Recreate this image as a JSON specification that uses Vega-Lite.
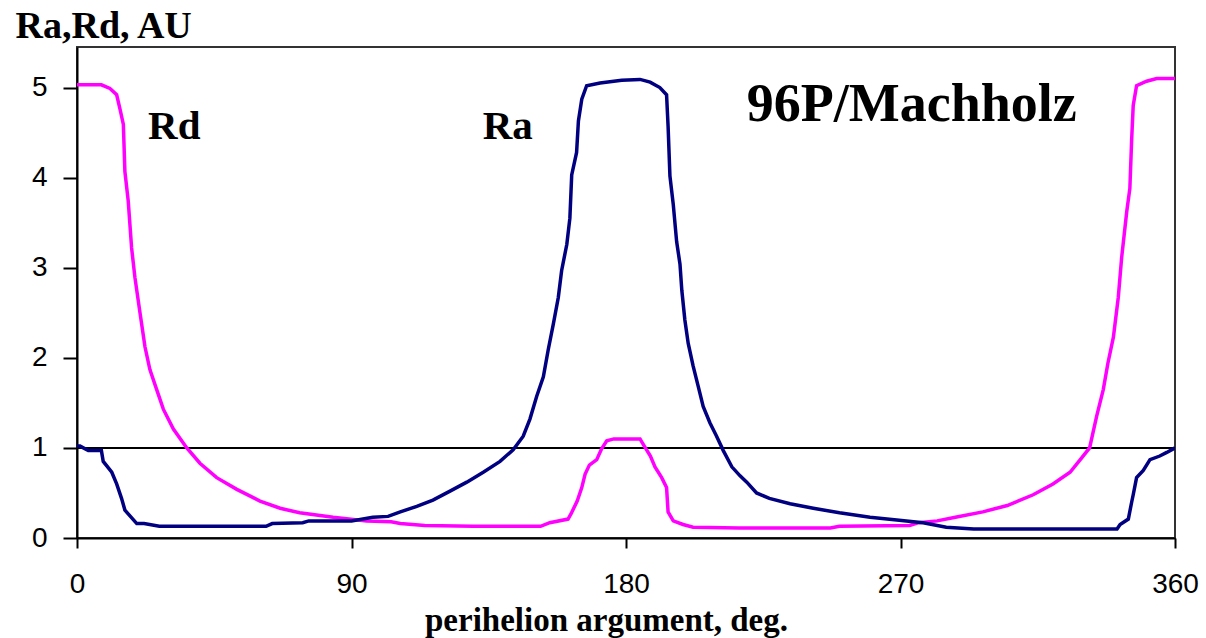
{
  "$schema": "https://vega.github.io/schema/vega-lite/v6.json",
  "width": 1098,
  "height": 491,
  "autosize": {"type": "none"},
  "padding": {"left": 77, "top": 47, "right": 31, "bottom": 100},
  "background": "white",
  "config": {
    "view": {"stroke": "#333333", "strokeWidth": 2},
    "axis": {"grid": false, "domainColor": "black", "domainWidth": 2, "tickColor": "black", "tickWidth": 2, "labelColor": "black", "labelFont": "Liberation Sans", "titleColor": "black", "titleFont": "Liberation Serif", "titleFontWeight": "bold"}
  },
  "datasets": {
    "curves": [
      {"deg": 0, "r": 5.03, "series": "Rd"},
      {"deg": 8, "r": 5.03, "series": "Rd"},
      {"deg": 10.8, "r": 4.99, "series": "Rd"},
      {"deg": 13, "r": 4.92, "series": "Rd"},
      {"deg": 14.1, "r": 4.76, "series": "Rd"},
      {"deg": 15.2, "r": 4.59, "series": "Rd"},
      {"deg": 15.7, "r": 4.07, "series": "Rd"},
      {"deg": 16.8, "r": 3.74, "series": "Rd"},
      {"deg": 17.9, "r": 3.22, "series": "Rd"},
      {"deg": 19, "r": 2.89, "series": "Rd"},
      {"deg": 20.7, "r": 2.49, "series": "Rd"},
      {"deg": 22.3, "r": 2.12, "series": "Rd"},
      {"deg": 23.9, "r": 1.87, "series": "Rd"},
      {"deg": 26.1, "r": 1.65, "series": "Rd"},
      {"deg": 28.3, "r": 1.43, "series": "Rd"},
      {"deg": 31.6, "r": 1.21, "series": "Rd"},
      {"deg": 36, "r": 1.0, "series": "Rd"},
      {"deg": 40.3, "r": 0.83, "series": "Rd"},
      {"deg": 45.8, "r": 0.67, "series": "Rd"},
      {"deg": 52.4, "r": 0.54, "series": "Rd"},
      {"deg": 60, "r": 0.41, "series": "Rd"},
      {"deg": 66.6, "r": 0.33, "series": "Rd"},
      {"deg": 73, "r": 0.28, "series": "Rd"},
      {"deg": 84, "r": 0.23, "series": "Rd"},
      {"deg": 95, "r": 0.19, "series": "Rd"},
      {"deg": 103, "r": 0.18, "series": "Rd"},
      {"deg": 106, "r": 0.16, "series": "Rd"},
      {"deg": 114, "r": 0.14, "series": "Rd"},
      {"deg": 130, "r": 0.13, "series": "Rd"},
      {"deg": 152, "r": 0.13, "series": "Rd"},
      {"deg": 155, "r": 0.17, "series": "Rd"},
      {"deg": 161, "r": 0.21, "series": "Rd"},
      {"deg": 162, "r": 0.27, "series": "Rd"},
      {"deg": 164, "r": 0.41, "series": "Rd"},
      {"deg": 165.5, "r": 0.56, "series": "Rd"},
      {"deg": 166.6, "r": 0.71, "series": "Rd"},
      {"deg": 168, "r": 0.81, "series": "Rd"},
      {"deg": 170.4, "r": 0.87, "series": "Rd"},
      {"deg": 172, "r": 0.99, "series": "Rd"},
      {"deg": 173.7, "r": 1.08, "series": "Rd"},
      {"deg": 176, "r": 1.1, "series": "Rd"},
      {"deg": 184.6, "r": 1.1, "series": "Rd"},
      {"deg": 186, "r": 1.02, "series": "Rd"},
      {"deg": 188, "r": 0.91, "series": "Rd"},
      {"deg": 189.5, "r": 0.79, "series": "Rd"},
      {"deg": 191.7, "r": 0.67, "series": "Rd"},
      {"deg": 193.3, "r": 0.56, "series": "Rd"},
      {"deg": 193.8, "r": 0.29, "series": "Rd"},
      {"deg": 195.5, "r": 0.19, "series": "Rd"},
      {"deg": 198.7, "r": 0.15, "series": "Rd"},
      {"deg": 202, "r": 0.12, "series": "Rd"},
      {"deg": 217, "r": 0.11, "series": "Rd"},
      {"deg": 247, "r": 0.11, "series": "Rd"},
      {"deg": 250, "r": 0.13, "series": "Rd"},
      {"deg": 273, "r": 0.14, "series": "Rd"},
      {"deg": 276, "r": 0.17, "series": "Rd"},
      {"deg": 282, "r": 0.19, "series": "Rd"},
      {"deg": 288, "r": 0.23, "series": "Rd"},
      {"deg": 297, "r": 0.29, "series": "Rd"},
      {"deg": 305, "r": 0.36, "series": "Rd"},
      {"deg": 313.5, "r": 0.48, "series": "Rd"},
      {"deg": 320, "r": 0.6, "series": "Rd"},
      {"deg": 325.6, "r": 0.73, "series": "Rd"},
      {"deg": 329.4, "r": 0.89, "series": "Rd"},
      {"deg": 332, "r": 1.0, "series": "Rd"},
      {"deg": 334.3, "r": 1.35, "series": "Rd"},
      {"deg": 336.5, "r": 1.65, "series": "Rd"},
      {"deg": 338, "r": 1.94, "series": "Rd"},
      {"deg": 339.8, "r": 2.23, "series": "Rd"},
      {"deg": 341.4, "r": 2.67, "series": "Rd"},
      {"deg": 342.5, "r": 3.11, "series": "Rd"},
      {"deg": 344.2, "r": 3.63, "series": "Rd"},
      {"deg": 345.2, "r": 3.88, "series": "Rd"},
      {"deg": 345.8, "r": 4.43, "series": "Rd"},
      {"deg": 346.3, "r": 4.8, "series": "Rd"},
      {"deg": 347.4, "r": 5.02, "series": "Rd"},
      {"deg": 350.7, "r": 5.07, "series": "Rd"},
      {"deg": 354, "r": 5.1, "series": "Rd"},
      {"deg": 360, "r": 5.1, "series": "Rd"},
      {"deg": 0, "r": 1.02, "series": "Ra"},
      {"deg": 1, "r": 1.02, "series": "Ra"},
      {"deg": 3.7, "r": 0.97, "series": "Ra"},
      {"deg": 8, "r": 0.97, "series": "Ra"},
      {"deg": 8.6, "r": 0.85, "series": "Ra"},
      {"deg": 11.4, "r": 0.73, "series": "Ra"},
      {"deg": 13, "r": 0.6, "series": "Ra"},
      {"deg": 14.6, "r": 0.44, "series": "Ra"},
      {"deg": 15.7, "r": 0.31, "series": "Ra"},
      {"deg": 19.6, "r": 0.16, "series": "Ra"},
      {"deg": 22, "r": 0.16, "series": "Ra"},
      {"deg": 27, "r": 0.13, "series": "Ra"},
      {"deg": 62, "r": 0.13, "series": "Ra"},
      {"deg": 64, "r": 0.16, "series": "Ra"},
      {"deg": 74, "r": 0.17, "series": "Ra"},
      {"deg": 76, "r": 0.19, "series": "Ra"},
      {"deg": 90, "r": 0.19, "series": "Ra"},
      {"deg": 97, "r": 0.23, "series": "Ra"},
      {"deg": 102, "r": 0.24, "series": "Ra"},
      {"deg": 106, "r": 0.29, "series": "Ra"},
      {"deg": 111.4, "r": 0.35, "series": "Ra"},
      {"deg": 116.7, "r": 0.42, "series": "Ra"},
      {"deg": 122.3, "r": 0.52, "series": "Ra"},
      {"deg": 127.8, "r": 0.62, "series": "Ra"},
      {"deg": 133.2, "r": 0.73, "series": "Ra"},
      {"deg": 138.7, "r": 0.85, "series": "Ra"},
      {"deg": 143, "r": 0.98, "series": "Ra"},
      {"deg": 146.3, "r": 1.13, "series": "Ra"},
      {"deg": 148.5, "r": 1.32, "series": "Ra"},
      {"deg": 150.7, "r": 1.57, "series": "Ra"},
      {"deg": 152.9, "r": 1.79, "series": "Ra"},
      {"deg": 154.5, "r": 2.09, "series": "Ra"},
      {"deg": 156.2, "r": 2.38, "series": "Ra"},
      {"deg": 157.8, "r": 2.67, "series": "Ra"},
      {"deg": 158.9, "r": 2.97, "series": "Ra"},
      {"deg": 160.6, "r": 3.26, "series": "Ra"},
      {"deg": 161.6, "r": 3.55, "series": "Ra"},
      {"deg": 162.2, "r": 4.03, "series": "Ra"},
      {"deg": 163.8, "r": 4.28, "series": "Ra"},
      {"deg": 164.4, "r": 4.63, "series": "Ra"},
      {"deg": 165.5, "r": 4.87, "series": "Ra"},
      {"deg": 167.1, "r": 5.02, "series": "Ra"},
      {"deg": 171.5, "r": 5.05, "series": "Ra"},
      {"deg": 178.6, "r": 5.08, "series": "Ra"},
      {"deg": 184.6, "r": 5.09, "series": "Ra"},
      {"deg": 187.9, "r": 5.06, "series": "Ra"},
      {"deg": 191.1, "r": 5.0, "series": "Ra"},
      {"deg": 193.3, "r": 4.92, "series": "Ra"},
      {"deg": 193.8, "r": 4.57, "series": "Ra"},
      {"deg": 194.4, "r": 4.02, "series": "Ra"},
      {"deg": 195.5, "r": 3.7, "series": "Ra"},
      {"deg": 196.6, "r": 3.29, "series": "Ra"},
      {"deg": 197.7, "r": 3.04, "series": "Ra"},
      {"deg": 198.3, "r": 2.75, "series": "Ra"},
      {"deg": 199.3, "r": 2.42, "series": "Ra"},
      {"deg": 200.4, "r": 2.16, "series": "Ra"},
      {"deg": 202, "r": 1.91, "series": "Ra"},
      {"deg": 203.7, "r": 1.68, "series": "Ra"},
      {"deg": 205.3, "r": 1.46, "series": "Ra"},
      {"deg": 207.5, "r": 1.28, "series": "Ra"},
      {"deg": 209.7, "r": 1.13, "series": "Ra"},
      {"deg": 211.9, "r": 0.97, "series": "Ra"},
      {"deg": 214.7, "r": 0.79, "series": "Ra"},
      {"deg": 217.4, "r": 0.69, "series": "Ra"},
      {"deg": 219.6, "r": 0.62, "series": "Ra"},
      {"deg": 222.8, "r": 0.5, "series": "Ra"},
      {"deg": 227, "r": 0.44, "series": "Ra"},
      {"deg": 233.8, "r": 0.38, "series": "Ra"},
      {"deg": 241.4, "r": 0.33, "series": "Ra"},
      {"deg": 250, "r": 0.28, "series": "Ra"},
      {"deg": 260, "r": 0.23, "series": "Ra"},
      {"deg": 268.8, "r": 0.2, "series": "Ra"},
      {"deg": 277.4, "r": 0.17, "series": "Ra"},
      {"deg": 285, "r": 0.12, "series": "Ra"},
      {"deg": 294, "r": 0.1, "series": "Ra"},
      {"deg": 341, "r": 0.1, "series": "Ra"},
      {"deg": 342, "r": 0.15, "series": "Ra"},
      {"deg": 344.7, "r": 0.21, "series": "Ra"},
      {"deg": 345.8, "r": 0.4, "series": "Ra"},
      {"deg": 346.3, "r": 0.48, "series": "Ra"},
      {"deg": 347.4, "r": 0.67, "series": "Ra"},
      {"deg": 349.6, "r": 0.75, "series": "Ra"},
      {"deg": 351.8, "r": 0.87, "series": "Ra"},
      {"deg": 355, "r": 0.91, "series": "Ra"},
      {"deg": 357.3, "r": 0.95, "series": "Ra"},
      {"deg": 360, "r": 1.0, "series": "Ra"}
    ],
    "labels": [
      {"deg": 23.3, "r": 4.43, "label": "Rd", "kind": "small"},
      {"deg": 133, "r": 4.43, "label": "Ra", "kind": "small"},
      {"deg": 219.6, "r": 4.63, "label": "96P/Machholz", "kind": "big"}
    ],
    "ref": [{"r": 1}]
  },
  "layer": [
    {
      "data": {"name": "ref"},
      "mark": {"type": "rule", "color": "black", "strokeWidth": 2},
      "encoding": {
        "y": {"field": "r", "type": "quantitative", "scale": {"domain": [0, 5.45], "nice": false, "zero": true}}
      }
    },
    {
      "data": {"name": "curves"},
      "mark": {"type": "line", "strokeWidth": 3.5, "clip": true},
      "encoding": {
        "x": {
          "field": "deg", "type": "quantitative",
          "scale": {"domain": [0, 360], "nice": false},
          "axis": {
            "values": [0, 90, 180, 270, 360],
            "format": "d",
            "title": "perihelion argument, deg.",
            "titleFontSize": 33,
            "titleX": 529, "titleY": 92,
            "titleAlign": "center", "titleBaseline": "alphabetic",
            "labelFontSize": 28,
            "labelPadding": 22,
            "tickSize": 10,
            "labelFlush": false
          }
        },
        "y": {
          "field": "r", "type": "quantitative",
          "scale": {"domain": [0, 5.45], "nice": false},
          "axis": {
            "values": [0, 1, 2, 3, 4, 5],
            "format": "d",
            "title": "Ra,Rd, AU",
            "titleFontSize": 38,
            "titleAngle": 0,
            "titleX": -62, "titleY": -10,
            "titleAlign": "left", "titleBaseline": "alphabetic",
            "labelFontSize": 28,
            "labelPadding": 16,
            "tickSize": 14
          }
        },
        "color": {
          "field": "series", "type": "nominal",
          "scale": {"domain": ["Ra", "Rd"], "range": ["#000080", "#FF00FF"]},
          "legend": null
        }
      }
    },
    {
      "data": {"name": "labels"},
      "mark": {"type": "text", "font": "Liberation Serif", "fontWeight": "bold", "align": "left", "baseline": "alphabetic", "color": "black"},
      "encoding": {
        "x": {"field": "deg", "type": "quantitative"},
        "y": {"field": "r", "type": "quantitative"},
        "text": {"field": "label"},
        "size": {
          "field": "kind", "type": "nominal",
          "scale": {"domain": ["small", "big"], "range": [41, 54]},
          "legend": null
        }
      }
    }
  ]
}
